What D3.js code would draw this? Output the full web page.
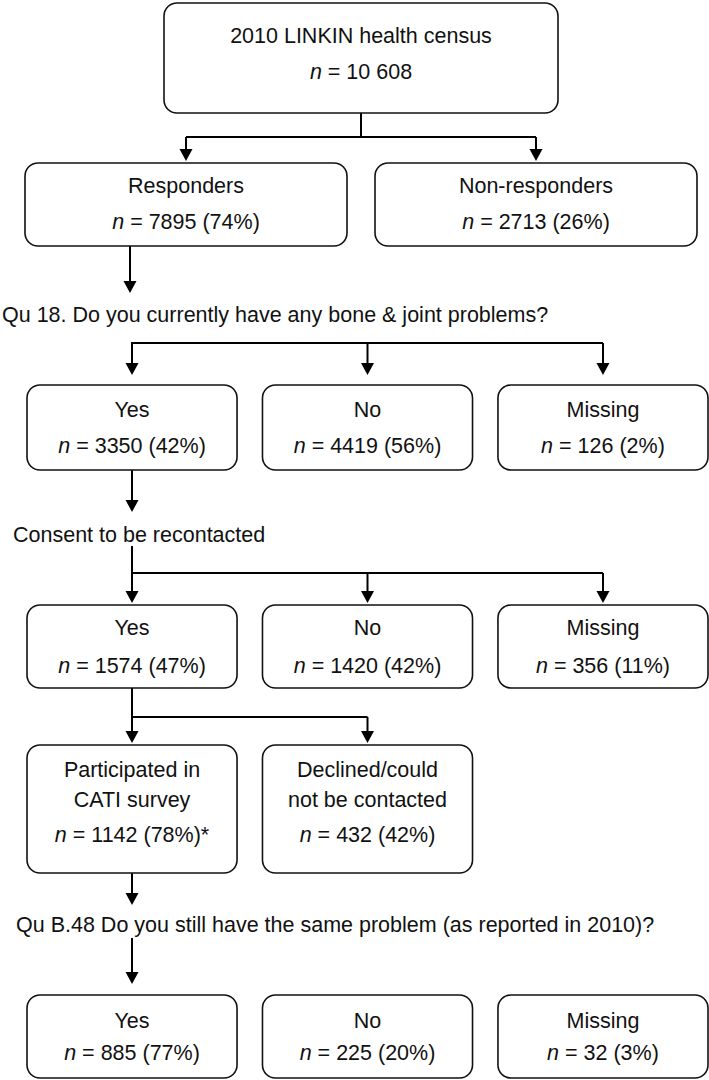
<!DOCTYPE html>
<html>
<head>
<meta charset="utf-8">
<script src="https://cdn.jsdelivr.net/npm/d3@7/dist/d3.min.js"></script>
<style>
  html, body { margin: 0; padding: 0; background: #fff; }
  svg { display: block; }
  text { font-family: "Liberation Sans", Arial, Helvetica, sans-serif; font-size: 21.5px; fill: #111; }
</style>
</head>
<body>
<svg id="chart" width="709" height="1080"></svg>
<script>
// ---- data ----
const topLabel = ["2010 LINKIN health census"];
const topN = ["10 608"];

const row1Labels = ["Responders", "Non-responders"];
const row1N = ["7895", "2713"];
const row1Pct = ["74%", "26%"];

const q18Label = "Qu 18. Do you currently have any bone & joint problems?";
const answerLabels = ["Yes", "No", "Missing"];
const q18N = ["3350", "4419", "126"];
const q18Pct = ["42%", "56%", "2%"];

const consentLabel = "Consent to be recontacted";
const consentN = ["1574", "1420", "356"];
const consentPct = ["47%", "42%", "11%"];

const catiLabels = [["Participated in", "CATI survey"], ["Declined/could", "not be contacted"]];
const catiN = ["1142", "432"];
const catiPct = ["78%", "42%"];
const catiSuffix = ["*", ""];

const qb48Label = "Qu B.48 Do you still have the same problem (as reported in 2010)?";
const qb48N = ["885", "225", "32"];
const qb48Pct = ["77%", "20%", "3%"];

// ---- drawing ----
const svg = d3.select("#chart");
const col = d3.scaleBand().domain([0, 1, 2]).range([27, 708]).paddingInner(0.108);
const row1 = d3.scaleBand().domain([0, 1]).range([25, 697]).paddingInner(0.08);
const cx = i => col(i) + col.bandwidth() / 2;

const lines = svg.append("g").attr("stroke", "#000").attr("stroke-width", 2).attr("fill", "none");
const heads = svg.append("g").attr("fill", "#000");
const boxes = svg.append("g");

function seg(x1, y1, x2, y2) {
  lines.append("line").attr("x1", x1).attr("y1", y1).attr("x2", x2).attr("y2", y2);
}
function arrow(x, y1, tip) {
  const ah = 12, aw = 6.5;
  seg(x, y1, x, tip - ah + 1);
  heads.append("path").attr("d", d3.line()([[x - aw, tip - ah], [x + aw, tip - ah], [x, tip]]) + "Z");
}
function box(x, y, w, h, lineTexts, baselines, nText) {
  const g = boxes.append("g");
  g.append("rect").attr("x", x).attr("y", y).attr("width", w).attr("height", h)
    .attr("rx", 13).attr("ry", 13).attr("fill", "#fff").attr("stroke", "#111").attr("stroke-width", 1.6);
  const mx = x + w / 2;
  lineTexts.forEach((t, i) => {
    g.append("text").attr("x", mx).attr("y", baselines[i]).attr("text-anchor", "middle").text(t);
  });
  const t = g.append("text").attr("x", mx).attr("y", baselines[baselines.length - 1]).attr("text-anchor", "middle");
  t.append("tspan").attr("font-style", "italic").text("n");
  t.append("tspan").text(nText);
}
const nStr = (v, p, s) => ` = ${v} (${p})${s || ""}`;
function label(x, y, t) {
  svg.append("text").attr("x", x).attr("y", y).text(t);
}

// top box
box(164, 3, 394, 110, topLabel, [43, 79], ` = ${topN[0]}`);

// top connector
seg(361, 113, 361, 137);
const r1c = i => row1(i) + row1.bandwidth() / 2;
seg(r1c(0), 137, r1c(1), 137);
arrow(r1c(0), 137, 161);
arrow(r1c(1), 137, 161);

// row 1
row1Labels.forEach((l, i) => box(row1(i), 163, row1.bandwidth(), 83, [l], [193, 229], nStr(row1N[i], row1Pct[i])));

// responders -> Q18
arrow(130, 246, 293);
label(2, 322, q18Label);

// Q18 connector
seg(cx(0) - 1, 343, cx(2), 343);
answerLabels.forEach((l, i) => arrow(cx(i), 343, 375));
answerLabels.forEach((l, i) => box(col(i), 385, col.bandwidth(), 85, [l], [417, 453], nStr(q18N[i], q18Pct[i])));

// yes -> consent
arrow(cx(0), 470, 512);
label(13, 542, consentLabel);

// consent connector
seg(cx(0), 546, cx(0), 573);
seg(cx(0), 573, cx(2), 573);
answerLabels.forEach((l, i) => arrow(cx(i), 573, 603));
answerLabels.forEach((l, i) => box(col(i), 605, col.bandwidth(), 83, [l], [635, 673], nStr(consentN[i], consentPct[i])));

// yes -> CATI
seg(cx(0), 688, cx(0), 717);
seg(cx(0), 717, cx(1), 717);
catiLabels.forEach((l, i) => arrow(cx(i), 717, 743));
catiLabels.forEach((l, i) => box(col(i), 745, col.bandwidth(), 128, l, [777, 807, 842], nStr(catiN[i], catiPct[i], catiSuffix[i])));

// CATI -> QB48
arrow(cx(0), 873, 905);
label(16, 932, qb48Label);
arrow(cx(0), 938, 984);
answerLabels.forEach((l, i) => box(col(i), 995, col.bandwidth(), 83, [l], [1028, 1060], nStr(qb48N[i], qb48Pct[i])));
</script>
</body>
</html>
